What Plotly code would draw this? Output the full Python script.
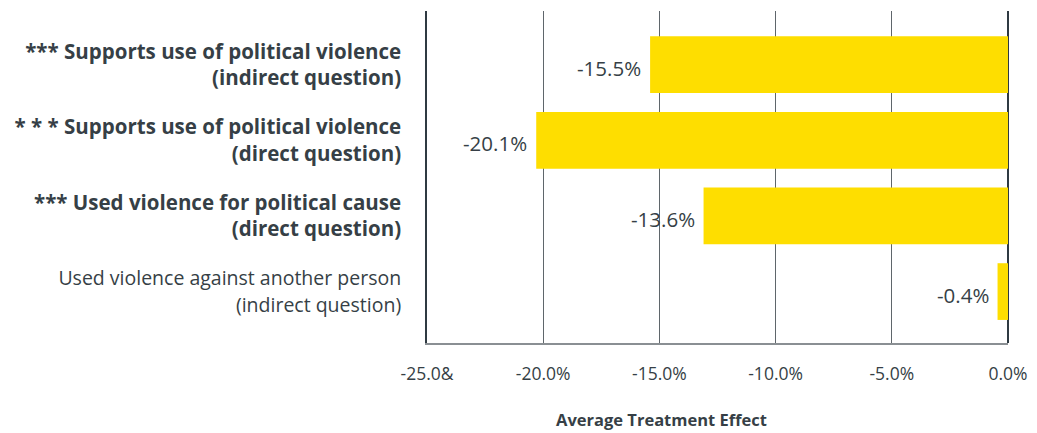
import plotly.graph_objects as go

categories = [
    "<b>*** Supports use of political violence</b><br><b>(indirect question)</b>",
    "<b>* * * Supports use of political violence</b><br><b>(direct question)</b>",
    "<b>*** Used violence for political cause</b><br><b>(direct question)</b>",
    "<span style=\"font-size:19.5px\">Used violence against another person</span><br>"
    "<span style=\"font-size:19.5px\">(indirect question)</span>",
]
values = [-15.4, -20.3, -13.1, -0.45]
value_labels = ["-15.5%", "-20.1%", "-13.6%", "-0.4%"]
tick_vals = [-25, -20, -15, -10, -5, 0]
tick_text = ["-25.0&", "-20.0%", "-15.0%", "-10.0%", "-5.0%", "0.0%"]
x_title = "Average Treatment Effect"

FONT = "Open Sans"
TXT = "#363f46"
positions = list(range(len(categories)))

fig = go.Figure()
fig.add_trace(go.Bar(
    x=values, y=positions, orientation="h",
    marker=dict(color="#FEDE00", line=dict(width=0)),
    hoverinfo="skip",
))

for v, lab, p in zip(values, value_labels, positions):
    fig.add_annotation(x=v, y=p, xref="x", yref="y", text=lab, showarrow=False,
                       xanchor="right", yanchor="middle", xshift=-7, yshift=-3,
                       font=dict(family=FONT, size=20.5, color=TXT))

fig.add_annotation(x=0.403, y=-0.231, xref="paper", yref="paper", text="<b>" + x_title + "</b>",
                   showarrow=False, xanchor="center", yanchor="middle",
                   font=dict(family=FONT, size=16.5, color=TXT))

fig.update_layout(
    width=1029, height=425,
    margin=dict(l=419, r=29, t=3, b=90, autoexpand=False),
    paper_bgcolor="white", plot_bgcolor="white",
    showlegend=False, bargap=0.25,
    font=dict(family=FONT, color=TXT),
    xaxis=dict(
        range=[-25, 0], tickvals=tick_vals, ticktext=tick_text,
        tickfont=dict(family=FONT, size=17.5, color=TXT),
        showgrid=True, gridcolor="#5f666b", gridwidth=1,
        zeroline=True, zerolinecolor="#2f3a42", zerolinewidth=1.5,
        showline=True, linecolor="#8a8f93", linewidth=1.5,
        ticks="", ticklabelstandoff=14, layer="above traces",
        fixedrange=True, automargin=False,
    ),
    yaxis=dict(
        range=[3.68, -0.71], tickvals=positions, ticktext=categories,
        tickfont=dict(family=FONT, size=20.5, color=TXT),
        showgrid=False, zeroline=False,
        showline=True, linecolor="#2f3a42", linewidth=1.5,
        ticks="", ticklabelstandoff=20, layer="above traces",
        fixedrange=True, automargin=False,
    ),
)

fig.write_html("out.html")
